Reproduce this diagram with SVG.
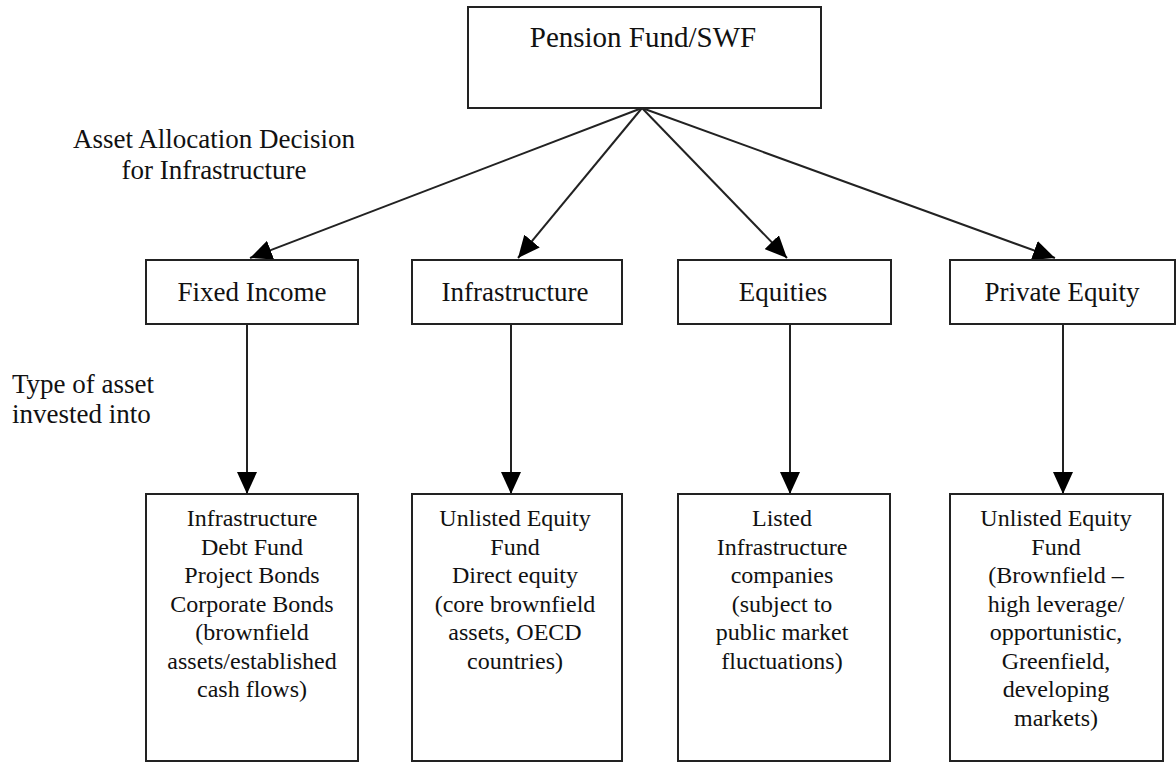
<svg xmlns="http://www.w3.org/2000/svg" width="1176" height="764" viewBox="0 0 1176 764" font-family="'Liberation Serif', 'Times New Roman', Tinos, 'DejaVu Serif', serif">
<style>
.box{fill:#fff;stroke:#222;stroke-width:2}
text{font-family:'Liberation Serif','Times New Roman',Tinos,'DejaVu Serif',serif;fill:#111}
.big{font-size:29px}
.mid{font-size:27px}
.sm{font-size:24px}
.c{text-anchor:middle}
.ln{stroke:#222;stroke-width:2;fill:none}
</style>
<defs>
<marker id="ah" viewBox="0 0 22 20" refX="22" refY="10" markerWidth="22" markerHeight="20" markerUnits="userSpaceOnUse" orient="auto">
<path d="M0,0 L22,10 L0,20 Z" fill="#000"/>
</marker>
</defs>
<rect width="1176" height="764" fill="#fff"/>

<g id="labels">
<text class="mid c" x="214" y="148">Asset Allocation Decision</text>
<text class="mid c" x="214" y="179">for Infrastructure</text>
<text class="mid" x="12" y="393">Type of asset</text>
<text class="mid" x="12" y="423">invested into</text>
</g>

<g id="connectors">
<line class="ln" x1="642" y1="108" x2="250" y2="258" marker-end="url(#ah)"/>
<line class="ln" x1="642" y1="108" x2="518" y2="258" marker-end="url(#ah)"/>
<line class="ln" x1="642" y1="108" x2="787" y2="258" marker-end="url(#ah)"/>
<line class="ln" x1="642" y1="108" x2="1055" y2="258" marker-end="url(#ah)"/>
<line class="ln" x1="247" y1="324" x2="247" y2="494" marker-end="url(#ah)"/>
<line class="ln" x1="511" y1="324" x2="511" y2="494" marker-end="url(#ah)"/>
<line class="ln" x1="790" y1="324" x2="790" y2="494" marker-end="url(#ah)"/>
<line class="ln" x1="1063" y1="324" x2="1063" y2="494" marker-end="url(#ah)"/>
</g>

<g id="pension">
<rect class="box" x="468" y="7" width="353" height="101"/>
<text class="big c" x="643" y="47">Pension Fund/SWF</text>
</g>

<g id="fixed-income">
<rect class="box" x="146" y="260" width="212" height="64"/>
<text class="mid c" x="252" y="301">Fixed Income</text>
</g>
<g id="infrastructure">
<rect class="box" x="412" y="260" width="210" height="64"/>
<text class="mid c" x="515" y="301">Infrastructure</text>
</g>
<g id="equities">
<rect class="box" x="678" y="260" width="213" height="64"/>
<text class="mid c" x="783" y="301">Equities</text>
</g>
<g id="private-equity">
<rect class="box" x="950" y="260" width="225" height="64"/>
<text class="mid c" x="1062" y="301">Private Equity</text>
</g>

<g id="fi-assets">
<rect class="box" x="146" y="494" width="212" height="267"/>
<text class="sm c" x="252" y="526">Infrastructure</text>
<text class="sm c" x="252" y="554.5">Debt Fund</text>
<text class="sm c" x="252" y="583">Project Bonds</text>
<text class="sm c" x="252" y="611.5">Corporate Bonds</text>
<text class="sm c" x="252" y="640">(brownfield</text>
<text class="sm c" x="252" y="668.5">assets/established</text>
<text class="sm c" x="252" y="697">cash flows)</text>
</g>
<g id="infra-assets">
<rect class="box" x="412" y="494" width="210" height="267"/>
<text class="sm c" x="515" y="526">Unlisted Equity</text>
<text class="sm c" x="515" y="554.5">Fund</text>
<text class="sm c" x="515" y="583">Direct equity</text>
<text class="sm c" x="515" y="611.5">(core brownfield</text>
<text class="sm c" x="515" y="640">assets, OECD</text>
<text class="sm c" x="515" y="668.5">countries)</text>
</g>
<g id="eq-assets">
<rect class="box" x="678" y="494" width="212" height="267"/>
<text class="sm c" x="782" y="526">Listed</text>
<text class="sm c" x="782" y="554.5">Infrastructure</text>
<text class="sm c" x="782" y="583">companies</text>
<text class="sm c" x="782" y="611.5">(subject to</text>
<text class="sm c" x="782" y="640">public market</text>
<text class="sm c" x="782" y="668.5">fluctuations)</text>
</g>
<g id="pe-assets">
<rect class="box" x="950" y="494" width="213" height="267"/>
<text class="sm c" x="1056" y="526">Unlisted Equity</text>
<text class="sm c" x="1056" y="554.5">Fund</text>
<text class="sm c" x="1056" y="583">(Brownfield –</text>
<text class="sm c" x="1056" y="611.5">high leverage/</text>
<text class="sm c" x="1056" y="640">opportunistic,</text>
<text class="sm c" x="1056" y="668.5">Greenfield,</text>
<text class="sm c" x="1056" y="697">developing</text>
<text class="sm c" x="1056" y="725.5">markets)</text>
</g>
</svg>
